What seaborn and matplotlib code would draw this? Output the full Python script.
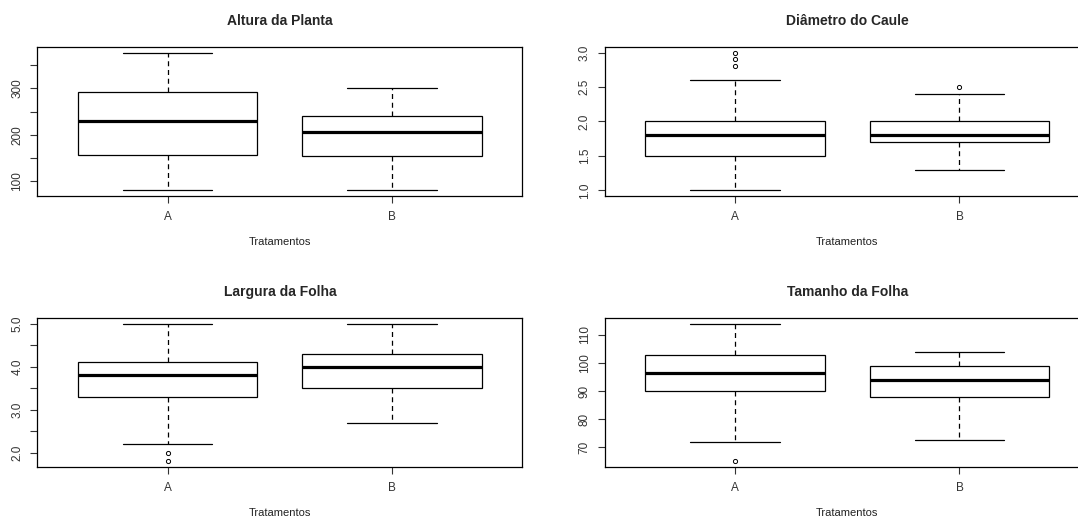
import pandas as pd
import matplotlib
matplotlib.use('Agg')
import matplotlib.pyplot as plt
import seaborn as sns

sns.set_theme(style="white")
plt.rcParams['font.family'] = ['Liberation Sans', 'DejaVu Sans']

tratamentos = ['A', 'B']

# resumo: [min, q1, mediana, q3, max] por tratamento
altura = {'A': [80, 156, 230, 293, 377], 'B': [80, 155, 206, 240, 300]}
altura_out = {'A': [], 'B': []}
diametro = {'A': [1.0, 1.5, 1.8, 2.0, 2.6], 'B': [1.3, 1.7, 1.8, 2.0, 2.4]}
diametro_out = {'A': [2.8, 2.9, 3.0], 'B': [2.5]}
largura = {'A': [2.2, 3.3, 3.8, 4.1, 5.0], 'B': [2.7, 3.5, 4.0, 4.3, 5.0]}
largura_out = {'A': [2.0, 1.8], 'B': []}
tamanho = {'A': [72, 90, 96.3, 103, 114], 'B': [72.5, 88, 94, 99, 104]}
tamanho_out = {'A': [65], 'B': []}

titulos = ['Altura da Planta', 'Diâmetro do Caule', 'Largura da Folha', 'Tamanho da Folha']

ticks_altura = [100, 150, 200, 250, 300, 350]
labels_altura = ['100', '', '200', '', '300', '']
ticks_diametro = [1.0, 1.5, 2.0, 2.5, 3.0]
labels_diametro = ['1.0', '1.5', '2.0', '2.5', '3.0']
ticks_largura = [2.0, 2.5, 3.0, 3.5, 4.0, 4.5, 5.0]
labels_largura = ['2.0', '', '3.0', '', '4.0', '', '5.0']
ticks_tamanho = [70, 80, 90, 100, 110]
labels_tamanho = ['70', '80', '90', '100', '110']


def montar(resumo, outliers):
    # amostra cujos quartis batem com o resumo lido
    linhas = []
    for t in tratamentos:
        mn, q1, md, q3, mx = resumo[t]
        vals = [mn] + [q1] * 10 + [md] * 5 + [q3] * 10 + [mx] + outliers[t]
        linhas += [(t, v) for v in vals]
    return pd.DataFrame(linhas, columns=['Tratamento', 'valor'])


def painel(ax, d, titulo, ticks, labels):
    sns.boxplot(data=d, x='Tratamento', y='valor', order=tratamentos, ax=ax,
                color='white', linecolor='black', linewidth=0.9, width=0.8,
                whis=1.5, fliersize=3,
                whiskerprops=dict(linestyle=(0, (4, 3)), color='black'),
                medianprops=dict(linewidth=2.3, color='black'),
                flierprops=dict(marker='o', markerfacecolor='none',
                                markeredgecolor='black', markeredgewidth=0.7))
    lo, hi = d['valor'].min(), d['valor'].max()
    pad = (hi - lo) * 0.04
    ax.set_ylim(lo - pad, hi + pad)
    ax.set_xlim(-0.58, 1.58)
    ax.set_yticks(ticks)
    ax.set_yticklabels(labels, rotation=90, va='center')
    ax.set_title(titulo, fontsize=10, fontweight='bold', pad=16)
    ax.set_xlabel('Tratamentos', fontsize=8, labelpad=10, color='#222222')
    ax.set_ylabel('')
    ax.tick_params(axis='both', direction='out', length=5, width=0.8,
                   labelsize=8.5, pad=6, colors='#333333', left=True, bottom=True)
    ax.tick_params(axis='y', pad=5)
    for s in ax.spines.values():
        s.set_visible(True)
        s.set_color('black')
        s.set_linewidth(0.9)


fig = plt.figure(figsize=(10.78, 5.2), dpi=100)
w, h = 0.45, 0.2865
posicoes = [[0.0346, 0.6231, w, h], [0.5609, 0.6231, w, h],
            [0.0346, 0.1019, w, h], [0.5609, 0.1019, w, h]]
dados = [(altura, altura_out, ticks_altura, labels_altura),
         (diametro, diametro_out, ticks_diametro, labels_diametro),
         (largura, largura_out, ticks_largura, labels_largura),
         (tamanho, tamanho_out, ticks_tamanho, labels_tamanho)]

for pos, tit, (res, out, tk, lb) in zip(posicoes, titulos, dados):
    ax = fig.add_axes(pos)
    painel(ax, montar(res, out), tit, tk, lb)

fig.savefig('out.png', dpi=100, facecolor='white')
